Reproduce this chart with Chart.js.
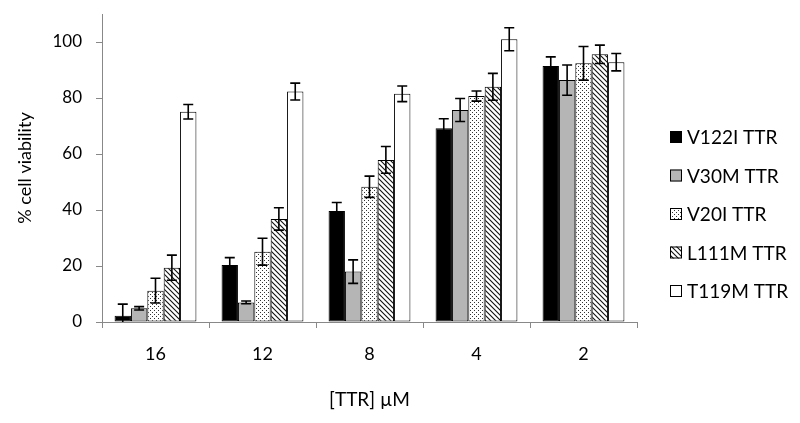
<!DOCTYPE html>
<html>
<head>
<meta charset="utf-8">
<script src="https://cdn.jsdelivr.net/npm/chart.js@4.4.0/dist/chart.umd.min.js"></script>
<style>
  body { margin: 0; background: #fff; }
</style>
</head>
<body>
<canvas id="myChart" width="800" height="423"></canvas>
<script>
// concentrations on the x axis
let labels = ['16', '12', '8', '4', '2'];
let seriesNames = ['V122I TTR', 'V30M TTR', 'V20I TTR', 'L111M TTR', 'T119M TTR'];

// % cell viability
let v122i = [2.2, 20.4, 39.6, 69.2, 91.4];
let v30m = [4.9, 7.0, 18.0, 75.7, 86.4];
let v20i = [11.2, 25.1, 48.3, 80.7, 92.4];
let l111m = [19.4, 36.8, 57.9, 84.0, 95.6];
let t119m = [75.1, 82.3, 81.5, 101.0, 92.8];

// error bars (+/-)
let v122iErr = [4.2, 2.6, 3.1, 3.4, 3.3];
let v30mErr = [0.6, 0.5, 4.2, 4.1, 5.4];
let v20iErr = [4.4, 4.8, 3.8, 1.8, 6.0];
let l111mErr = [4.5, 4.0, 4.8, 4.8, 3.3];
let t119mErr = [2.6, 3.0, 2.8, 4.1, 3.1];

let yTicks = [0, 20, 40, 60, 80, 100];

const FONT = 'Lato, "Open Sans", sans-serif';

// fill patterns
function dotPattern() {
    let c = document.createElement('canvas');
    c.width = 4; c.height = 4;
    let g = c.getContext('2d');
    g.fillStyle = '#fff';
    g.fillRect(0, 0, 4, 4);
    g.fillStyle = '#333';
    g.fillRect(0, 0, 1, 1);
    g.fillRect(2, 2, 1, 1);
    return g.createPattern(c, 'repeat');
}

function hatchPattern() {
    let c = document.createElement('canvas');
    c.width = 5; c.height = 5;
    let g = c.getContext('2d');
    g.fillStyle = '#fff';
    g.fillRect(0, 0, 5, 5);
    g.strokeStyle = '#111';
    g.lineWidth = 1.1;
    g.beginPath();
    g.moveTo(-1, -1); g.lineTo(6, 6);
    g.moveTo(-1, 4); g.lineTo(1, 6);
    g.moveTo(4, -1); g.lineTo(6, 1);
    g.stroke();
    return g.createPattern(c, 'repeat');
}

let fills = ['#000000', '#b5b5b5', dotPattern(), hatchPattern(), '#ffffff'];
let values = [v122i, v30m, v20i, l111m, t119m];
let errors = [v122iErr, v30mErr, v20iErr, l111mErr, t119mErr];

let datasets = seriesNames.map((name, i) => ({
    label: name,
    data: values[i],
    errors: errors[i],
    backgroundColor: fills[i],
    borderColor: '#000',
    borderWidth: 1,
    borderSkipped: false
}));

// error bars drawn with the y scale
const errorBars = {
    id: 'errorBars',
    afterDatasetsDraw(chart) {
        let ctx = chart.ctx;
        let y = chart.scales.y;
        let area = chart.chartArea;
        ctx.save();
        ctx.beginPath();
        ctx.rect(area.left, area.top - 10, area.right - area.left, area.bottom - area.top + 10);
        ctx.clip();
        ctx.strokeStyle = '#000';
        ctx.lineWidth = 1.6;
        chart.data.datasets.forEach((ds, i) => {
            let meta = chart.getDatasetMeta(i);
            meta.data.forEach((bar, j) => {
                let v = ds.data[j], e = ds.errors[j];
                let top = y.getPixelForValue(v + e);
                let bot = y.getPixelForValue(v - e);
                let x = bar.x;
                ctx.beginPath();
                ctx.moveTo(x, top); ctx.lineTo(x, bot);
                ctx.moveTo(x - 5, top); ctx.lineTo(x + 5, top);
                ctx.moveTo(x - 5, bot); ctx.lineTo(x + 5, bot);
                ctx.stroke();
            });
        });
        ctx.restore();
    }
};

// legend to the right of the plot
const sideLegend = {
    id: 'sideLegend',
    afterDraw(chart) {
        let ctx = chart.ctx;
        ctx.save();
        ctx.font = '19px ' + FONT;
        ctx.textBaseline = 'middle';
        ctx.fillStyle = '#000';
        chart.data.datasets.forEach((ds, i) => {
            let cy = 137 + i * 38.5;
            ctx.fillStyle = ds.backgroundColor;
            ctx.fillRect(670, cy - 6, 12, 12);
            ctx.strokeStyle = '#000';
            ctx.lineWidth = 1;
            ctx.strokeRect(670.5, cy - 5.5, 11, 11);
            ctx.fillStyle = '#000';
            ctx.fillText(ds.label, 687, cy + 1);
        });
        ctx.restore();
    }
};

let myChart = document.getElementById('myChart').getContext('2d');

let viabilityChart = new Chart(myChart, {
    type: 'bar',
    data: {
        labels: labels,
        datasets: datasets
    },
    plugins: [errorBars, sideLegend],
    options: {
        responsive: false,
        animation: false,
        datasets: {
            bar: {
                categoryPercentage: 0.765,
                barPercentage: 1.0
            }
        },
        layout: {
            padding: { left: 0, right: 163, top: 14, bottom: 0 }
        },
        plugins: {
            legend: { display: false },
            tooltip: { enabled: false }
        },
        scales: {
            x: {
                afterFit: (axis) => { axis.height = 101; },
                grid: {
                    drawOnChartArea: false,
                    drawTicks: true,
                    tickLength: 6,
                    color: '#888',
                    offset: true
                },
                border: { color: '#888', width: 1 },
                ticks: {
                    color: '#000',
                    padding: 15,
                    font: { family: FONT, size: 18 }
                },
                title: {
                    display: true,
                    text: '[TTR] µM',
                    color: '#000',
                    font: { family: FONT, size: 19 },
                    padding: { top: 4, bottom: 12 }
                }
            },
            y: {
                min: 0,
                max: 110,
                afterFit: (axis) => {
                    axis.width = 102;
                    axis.paddingTop = 0;
                    axis.paddingBottom = 0;
                },
                afterBuildTicks: (axis) => {
                    axis.ticks = yTicks.map(v => ({ value: v }));
                },
                grid: {
                    drawOnChartArea: false,
                    drawTicks: true,
                    tickLength: 6,
                    color: '#888'
                },
                border: { color: '#888', width: 1 },
                ticks: {
                    color: '#000',
                    padding: 14,
                    font: { family: FONT, size: 17 }
                },
                title: {
                    display: true,
                    text: '% cell viability',
                    color: '#000',
                    font: { family: FONT, size: 18 },
                    padding: { top: 14, bottom: 0 }
                }
            }
        }
    }
});
</script>
</body>
</html>
